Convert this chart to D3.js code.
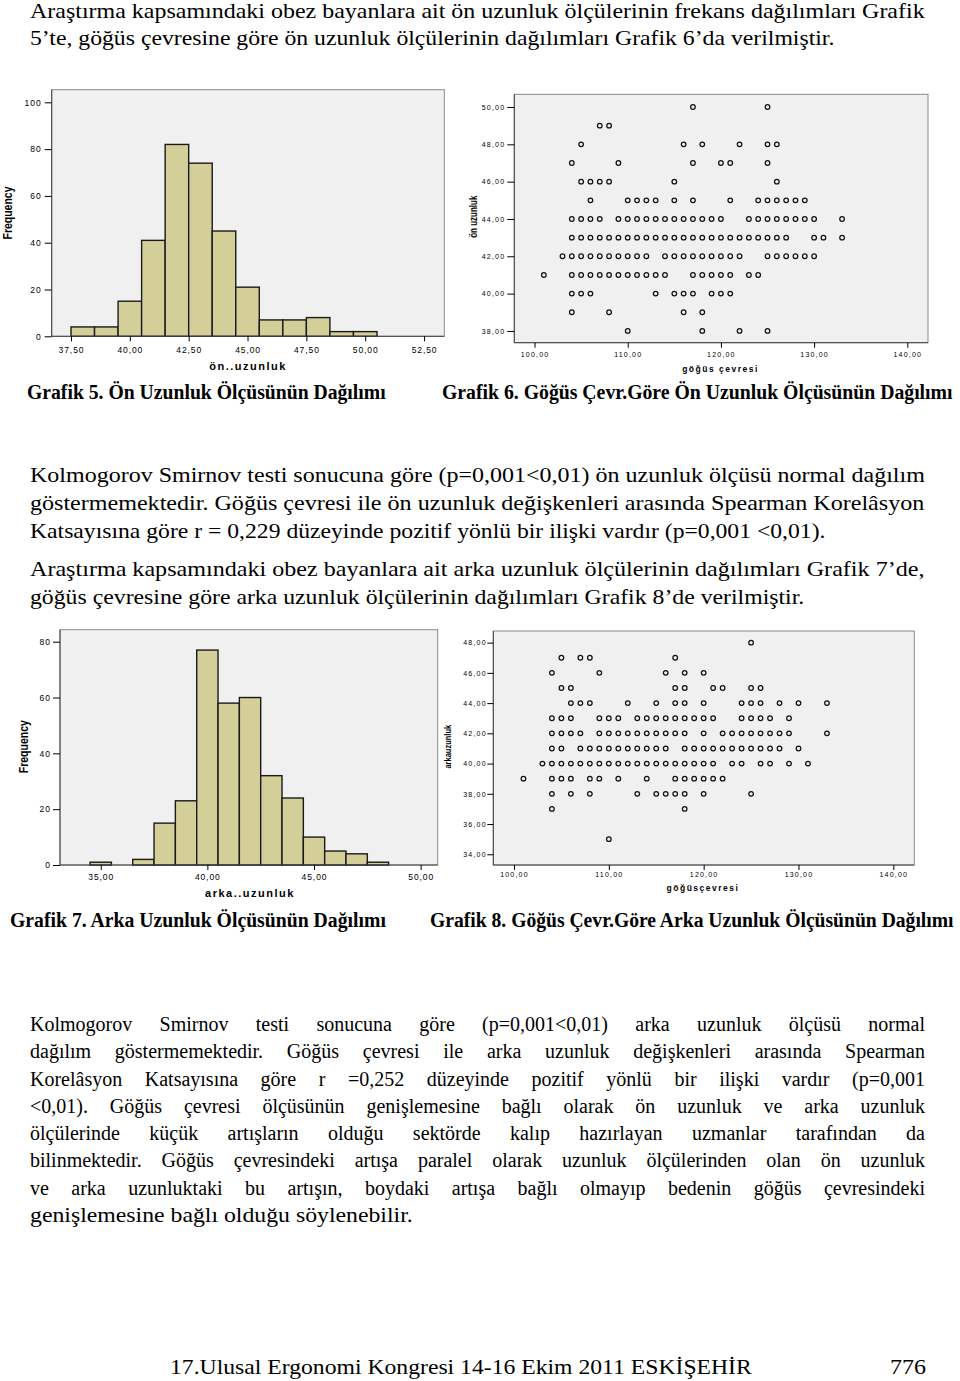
<!DOCTYPE html>
<html><head><meta charset="utf-8">
<script src="https://cdn.jsdelivr.net/npm/d3@7"></script>
<style>body{margin:0;background:#fff}svg{display:block}</style>
</head><body><svg id="page" width="960" height="1381"></svg>
<script>
// ---------- DATA ----------
const hist5Bins = [38,39,40,41,42,43,44,45,46,47,48,49,50];
const hist5Freq = [4,4,15,41,82,74,45,21,7,7,8,2,2];
const hist5XTicks = [37.5,40,42.5,45,47.5,50,52.5];
const hist5YTicks = [0,20,40,60,80,100];

const hist7Bins = [35,36,37,38,39,40,41,42,43,44,45,46,47,48];
const hist7Freq = [1,0,2,15,23,77,58,60,32,24,10,5,4,1];
const hist7XTicks = [35,40,45,50];
const hist7YTicks = [0,20,40,60,80];

const scat6Rows = [50,49,48,47,46,45,44,43,42,41,40,39,38];
const scat6Cols = [
  [117,125],
  [107,108],
  [105,116,118,122,125,126],
  [104,109,117,120,121,125],
  [105,106,107,108,115,126],
  [106,110,111,112,113,115,117,121,124,125,126,127,128,129],
  [104,105,106,107,109,110,111,112,113,114,115,116,117,118,119,120,123,124,125,126,127,128,129,130,133],
  [104,105,106,107,108,109,110,111,112,113,114,115,116,117,118,119,120,121,122,123,124,125,126,127,130,131,133],
  [103,104,105,106,107,108,109,110,111,112,114,115,116,117,118,119,120,121,122,125,126,127,128,129,130],
  [101,104,105,106,107,108,109,110,111,112,113,114,117,118,119,120,121,123,124],
  [104,105,106,113,115,116,117,119,120,121],
  [104,108,116,118],
  [110,118,122,125]
];
const scat6XTicks = [100,110,120,130,140];
const scat6YTicks = [38,40,42,44,46,48,50];

const scat8Rows = [48,47,46,45,44,43,42,41,40,39,38,37,35];
const scat8Cols = [
  [125],
  [105,107,108,117],
  [104,109,116,118,120],
  [105,106,117,118,121,122,125,126],
  [106,107,108,112,115,117,118,120,124,125,126,128,130,133],
  [104,105,106,109,110,111,113,114,115,116,117,118,119,120,121,124,125,126,127,129],
  [104,105,106,107,109,110,111,112,113,114,115,116,117,118,120,122,123,124,125,126,127,128,129,133],
  [104,105,107,108,109,110,111,112,113,114,115,116,118,119,120,121,122,123,124,125,126,127,128,130],
  [103,104,105,106,107,108,109,110,111,112,113,114,115,116,117,118,119,120,121,123,124,126,127,129,131],
  [101,104,105,106,108,109,111,114,117,118,119,120,121,122],
  [104,106,108,113,115,116,117,118,120,125],
  [104,118],
  [110]
];
const scat8XTicks = [100,110,120,130,140];
const scat8YTicks = [34,36,38,40,42,44,46,48];

const para1 = [
  "Araştırma kapsamındaki obez bayanlara ait ön uzunluk ölçülerinin frekans dağılımları Grafik",
  "5’te, göğüs çevresine göre ön uzunluk ölçülerinin dağılımları Grafik 6’da verilmiştir."
];
const para2 = [
  "Kolmogorov Smirnov testi sonucuna göre (p=0,001<0,01) ön uzunluk ölçüsü normal dağılım",
  "göstermemektedir. Göğüs çevresi ile ön uzunluk değişkenleri arasında Spearman Korelâsyon",
  "Katsayısına göre r = 0,229 düzeyinde pozitif yönlü bir ilişki vardır (p=0,001 <0,01)."
];
const para3 = [
  "Araştırma kapsamındaki obez bayanlara ait arka uzunluk ölçülerinin dağılımları Grafik 7’de,",
  "göğüs çevresine göre arka uzunluk ölçülerinin dağılımları Grafik 8’de verilmiştir."
];
const para4 = [
  "Kolmogorov Smirnov testi sonucuna göre (p=0,001<0,01) arka uzunluk ölçüsü normal",
  "dağılım göstermemektedir. Göğüs çevresi ile arka uzunluk değişkenleri arasında Spearman",
  "Korelâsyon Katsayısına göre r =0,252 düzeyinde pozitif yönlü bir ilişki vardır (p=0,001",
  "<0,01). Göğüs çevresi ölçüsünün genişlemesine bağlı olarak ön uzunluk ve arka uzunluk",
  "ölçülerinde küçük artışların olduğu sektörde kalıp hazırlayan uzmanlar tarafından da",
  "bilinmektedir. Göğüs çevresindeki artışa paralel olarak uzunluk ölçülerinden olan ön uzunluk",
  "ve arka uzunluktaki bu artışın, boydaki artışa bağlı olmayıp bedenin göğüs çevresindeki",
  "genişlemesine bağlı olduğu söylenebilir."
];
const captions = [
  "Grafik 5. Ön Uzunluk Ölçüsünün Dağılımı",
  "Grafik 6. Göğüs Çevr.Göre Ön Uzunluk Ölçüsünün Dağılımı",
  "Grafik 7. Arka Uzunluk Ölçüsünün Dağılımı",
  "Grafik 8. Göğüs Çevr.Göre Arka Uzunluk Ölçüsünün Dağılımı"
];
const footerText = "17.Ulusal Ergonomi Kongresi 14-16 Ekim 2011 ESKİŞEHİR";
const pageNo = "776";

// ---------- DRAWING ----------
const svg = d3.select("#page");
svg.append("rect").attr("width",960).attr("height",1381).attr("fill","#fff");
const SANS = "'Liberation Sans', Arial, sans-serif";
const SERIF = "'Liberation Serif', 'Times New Roman', serif";
const fmt2 = d => d.toFixed(2).replace(".", ",");

function textLine(str, x, y, x2, o) {
  const t = svg.append("text").attr("x", 0).attr("y", 0).text(str)
    .attr("font-family", o.family || SERIF).attr("font-size", o.size)
    .attr("font-weight", o.weight || "normal").attr("fill", "#000")
    .attr("transform", `translate(${x},${y})`);
  const L = t.node().getComputedTextLength();
  if (o.mode === "fit") {
    t.attr("transform", `translate(${x},${y}) scale(${(x2 - x) / L},1)`);
  } else if (o.mode === "justify") {
    const n = (str.match(/ /g) || []).length;
    if (n > 0) t.attr("word-spacing", (x2 - x - L) / n);
  }
  return t;
}

function styleAxis(ax, size, ls) {
  ax.select(".domain").remove();
  ax.selectAll(".tick line").attr("stroke", "#000").attr("stroke-width", 1);
  ax.selectAll(".tick text").attr("font-family", SANS).attr("font-size", size)
    .attr("letter-spacing", ls).attr("fill", "#000");
}

function panel(g, b) {
  g.append("rect").attr("x", b.x0).attr("y", b.y0).attr("width", b.x1 - b.x0).attr("height", b.y1 - b.y0)
    .attr("fill", "#f0f0f0").attr("stroke", "#8a8a8a").attr("stroke-width", 1);
}
function axisLines(g, b) {
  g.append("line").attr("x1", b.x0).attr("x2", b.x0).attr("y1", b.y0).attr("y2", b.y1).attr("stroke", "#444");
  g.append("line").attr("x1", b.x0).attr("x2", b.x1).attr("y1", b.y1).attr("y2", b.y1).attr("stroke", "#444");
}

function drawHist(o) {
  const b = o.box;
  const x = d3.scaleLinear().domain(o.xDom).range([b.x0, b.x1]);
  const y = d3.scaleLinear().domain([0, o.yMax]).range([b.y1, b.y0]);
  const g = svg.append("g");
  panel(g, b);
  const data = o.bins.map((v, i) => ({ v, f: o.freq[i] })).filter(d => d.f > 0);
  g.selectAll("rect.bar").data(data).join("rect").attr("class", "bar")
    .attr("x", d => x(d.v - 0.5)).attr("width", d => x(d.v + 0.5) - x(d.v - 0.5))
    .attr("y", d => y(d.f)).attr("height", d => y(0) - y(d.f))
    .attr("fill", "#d4cf99").attr("stroke", "#1a1a1a").attr("stroke-width", 1.4);
  axisLines(g, b);
  const ya = g.append("g").attr("transform", `translate(${b.x0},0)`)
    .call(d3.axisLeft(y).tickValues(o.yTicks).tickSize(o.yTickSize).tickPadding(o.yPad).tickFormat(d3.format("d")));
  styleAxis(ya, 8.5, 1);
  const xa = g.append("g").attr("transform", `translate(0,${b.y1})`)
    .call(d3.axisBottom(x).tickValues(o.xTicks).tickSize(5).tickPadding(o.xPad).tickFormat(fmt2));
  styleAxis(xa, 8.5, 0.9);
  g.append("text").attr("x", o.xt[0]).attr("y", o.xt[1]).attr("text-anchor", "middle")
    .attr("font-family", SANS).attr("font-weight", "bold").attr("font-size", 11).attr("letter-spacing", 1.5)
    .text(o.xTitle);
  g.append("text").attr("transform", `translate(${o.yt[0]},${o.yt[1]}) rotate(-90) scale(1,1.15)`).attr("text-anchor", "middle")
    .attr("font-family", SANS).attr("font-weight", "bold").attr("font-size", 10.5)
    .text("Frequency");
}

function drawScatter(o) {
  const b = o.box;
  const x = d3.scaleLinear().domain(o.xDom).range([b.x0, b.x1]);
  const y = d3.scaleLinear().domain(o.yDom).range([b.y1, b.y0]);
  const g = svg.append("g");
  panel(g, b);
  const pts = [];
  o.rows.forEach((r, i) => o.cols[i].forEach(c => pts.push({ x: c, y: r })));
  g.selectAll("circle").data(pts).join("circle")
    .attr("cx", d => x(d.x)).attr("cy", d => y(d.y)).attr("r", 2.3)
    .attr("fill", "none").attr("stroke", "#111").attr("stroke-width", 1.25);
  axisLines(g, b);
  const ya = g.append("g").attr("transform", `translate(${b.x0},0)`)
    .call(d3.axisLeft(y).tickValues(o.yTicks).tickSize(o.yTickSize).tickPadding(o.yPad).tickFormat(fmt2));
  styleAxis(ya, 7, 1.2);
  const xa = g.append("g").attr("transform", `translate(0,${b.y1})`)
    .call(d3.axisBottom(x).tickValues(o.xTicks).tickSize(5).tickPadding(o.xPad).tickFormat(fmt2));
  styleAxis(xa, 7, 1.2);
  g.append("text").attr("x", o.xt[0]).attr("y", o.xt[1]).attr("text-anchor", "middle")
    .attr("font-family", SANS).attr("font-weight", "bold").attr("font-size", 8.5).attr("letter-spacing", 1.5)
    .text(o.xTitle);
  g.append("text").attr("transform", `translate(${o.yt[0]},${o.yt[1]}) rotate(-90) scale(1,1.3)`).attr("text-anchor", "middle")
    .attr("font-family", SANS).attr("font-weight", "bold").attr("font-size", o.ytSize)
    .text(o.yTitle);
}

// Grafik 5
drawHist({
  bins: hist5Bins, freq: hist5Freq, xTicks: hist5XTicks, yTicks: hist5YTicks,
  box: { x0: 51.7, x1: 444.3, y0: 89.7, y1: 336.3 }, xDom: [36.68, 53.36], yMax: 105.4,
  yTickSize: 7, yPad: 3, xPad: 6, xTitle: "ön..uzunluk", xt: [248, 370], yt: [11.5, 213]
});
// Grafik 6
drawScatter({
  rows: scat6Rows, cols: scat6Cols, xTicks: scat6XTicks, yTicks: scat6YTicks,
  box: { x0: 514.3, x1: 928, y0: 94.3, y1: 342.7 }, xDom: [97.83, 142.22], yDom: [37.37, 50.68],
  yTickSize: 7, yPad: 2, xPad: 4, xTitle: "göğüs çevresi", xt: [720.5, 371.5],
  yTitle: "ön uzunluk", yt: [476.5, 216.7], ytSize: 8
});
// Grafik 7
drawHist({
  bins: hist7Bins, freq: hist7Freq, xTicks: hist7XTicks, yTicks: hist7YTicks,
  box: { x0: 60, x1: 437.7, y0: 629.7, y1: 865 }, xDom: [33.09, 50.8], yMax: 84.3,
  yTickSize: 7, yPad: 2, xPad: 4.2, xTitle: "arka..uzunluk", xt: [250, 896.5], yt: [28, 746.7]
});
// Grafik 8
drawScatter({
  rows: scat8Rows, cols: scat8Cols, xTicks: scat8XTicks, yTicks: scat8YTicks,
  box: { x0: 493.3, x1: 914.3, y0: 631, y1: 865 }, xDom: [97.82, 142.21], yDom: [33.29, 48.77],
  yTickSize: 6, yPad: 0.5, xPad: 2.5, xTitle: "göğüsçevresi", xt: [703, 891],
  yTitle: "arkauzunluk", yt: [451, 746.7], ytSize: 7.5
});

// ---------- TEXT ----------
textLine(para1[0], 30, 18, 925, { size: 21, mode: "fit" });
textLine(para1[1], 30, 45, 835, { size: 21, mode: "fit" });

textLine(captions[0], 27, 399, 386, { size: 20, weight: "bold", mode: "fit" });
textLine(captions[1], 442, 399, 953, { size: 20, weight: "bold", mode: "fit" });

textLine(para2[0], 30, 482, 925, { size: 21, mode: "fit" });
textLine(para2[1], 30, 510, 925, { size: 21, mode: "fit" });
textLine(para2[2], 30, 538, 826, { size: 21, mode: "fit" });

textLine(para3[0], 30, 576, 925, { size: 21, mode: "fit" });
textLine(para3[1], 30, 604, 805, { size: 21, mode: "fit" });

textLine(captions[2], 10, 927, 386, { size: 20, weight: "bold", mode: "fit" });
textLine(captions[3], 430, 927, 954, { size: 20, weight: "bold", mode: "fit" });

const p4Base = [1031, 1058, 1086, 1113, 1140, 1167, 1195, 1222];
para4.forEach((s, i) => {
  if (i < para4.length - 1) textLine(s, 30, p4Base[i], 925, { size: 20, mode: "justify" });
  else textLine(s, 30, p4Base[i], 413, { size: 20, mode: "fit" });
});

textLine(footerText, 170, 1374, 752, { size: 22, mode: "fit" });
textLine(pageNo, 890, 1374, 926, { size: 22, mode: "fit" });
</script>
</body></html>
